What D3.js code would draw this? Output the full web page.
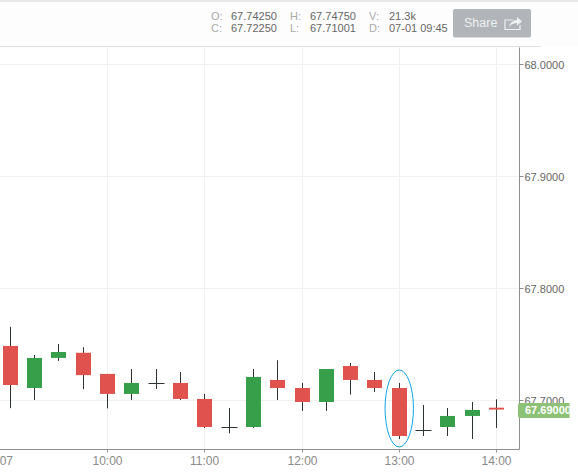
<!DOCTYPE html>
<html><head><meta charset="utf-8">
<script src="https://cdn.jsdelivr.net/npm/d3@7"></script>
<style>
html,body{margin:0;padding:0;background:#fff;overflow:hidden}
svg{display:block;font-family:"Liberation Sans",Arial,sans-serif}
</style></head><body>
<svg id="c" width="578" height="472"></svg>
<script>
const times=["09:00","09:15","09:30","09:45","10:00","10:15","10:30","10:45","11:00","11:15","11:30","11:45","12:00","12:15","12:30","12:45","13:00","13:15","13:30","13:45","14:00"];
const opens =[67.7486,67.7110,67.7379,67.7425,67.7236,67.7057,67.7152,67.7155,67.7012,67.6759,67.6761,67.7182,67.7110,67.6985,67.7307,67.7182,67.7110,67.6732,67.6761,67.6860,67.6934];
const closes=[67.7137,67.7379,67.7432,67.7225,67.7057,67.7155,67.7152,67.7012,67.6761,67.6759,67.7209,67.7110,67.6985,67.7280,67.7182,67.7110,67.6681,67.6732,67.6860,67.6914,67.6917];
const highs =[67.7656,67.7405,67.7504,67.7475,67.7236,67.7280,67.7280,67.7253,67.7057,67.6931,67.7280,67.7358,67.7155,67.7280,67.7334,67.7253,67.7155,67.6958,67.6931,67.6985,67.7009];
const lows  =[67.6930,67.7003,67.7352,67.7100,67.6928,67.7003,67.7101,67.7003,67.6753,67.6705,67.6753,67.7003,67.6905,67.6905,67.7051,67.7075,67.6654,67.6681,67.6681,67.6654,67.6753];
const priceTicks=[68.0,67.9,67.8,67.7];
const hourTicks=["10:00","11:00","12:00","13:00","14:00"];
const infoLabels=[["O:","67.74250","H:","67.74750","V:","21.3k"],["C:","67.72250","L:","67.71001","D:","07-01 09:45"]];
const lastPrice=67.69;
const highlighted="13:00";

const svg=d3.select("#c");
const mins=s=>{const [h,m]=s.split(":").map(Number);return h*60+m;};
const x=d3.scaleLinear().domain([mins("10:00"),mins("14:00")]).range([107,496]);
const y=d3.scaleLinear().domain([67.7,68.0]).range([400.3,64.8]);
const rightX=519.5,bottomY=449.5,topY=46.5;

// header background and frame
svg.append("rect").attr("x",0).attr("y",0).attr("width",578).attr("height",46).attr("fill","#fdfdfd");
svg.append("rect").attr("x",0).attr("y",0).attr("width",578).attr("height",2).attr("fill","#e8e8e8");
svg.append("line").attr("x1",0).attr("x2",541).attr("y1",topY).attr("y2",topY).attr("stroke","#e0e0e0");

// grid
const g=svg.append("g");
g.selectAll(".gy").data(priceTicks).join("line").attr("x1",0).attr("x2",rightX)
 .attr("y1",d=>Math.floor(y(d))+.5).attr("y2",d=>Math.floor(y(d))+.5).attr("stroke","#f0f0f0");
g.selectAll(".gx").data(hourTicks).join("line").attr("y1",topY+1).attr("y2",bottomY)
 .attr("x1",d=>Math.round(x(mins(d)))+.5).attr("x2",d=>Math.round(x(mins(d)))+.5).attr("stroke","#f0f0f0");

// candles
const idx=d3.range(times.length);
const bw=15;
const up="#379e4a",down="#e0524e",wick="#2c3533";
svg.append("g").selectAll("line").data(idx).join("line")
 .attr("x1",i=>Math.round(x(mins(times[i])))+.5).attr("x2",i=>Math.round(x(mins(times[i])))+.5)
 .attr("y1",i=>y(highs[i])).attr("y2",i=>y(lows[i])).attr("stroke",wick).attr("stroke-width",1);
svg.append("g").selectAll("path").data(idx).join("path")
 .attr("d",i=>{
   const cx=Math.round(x(mins(times[i])))+.5,
         a=y(Math.max(opens[i],closes[i])),b=y(Math.min(opens[i],closes[i]));
   const h=b-a;
   if(h<1) return `M${cx-8},${Math.round(a)+.5}H${cx+8}`;
   return `M${cx-bw/2},${a}H${cx+bw/2}V${b}H${cx-bw/2}Z`;
 })
 .attr("fill",i=>closes[i]>opens[i]?up:down)
 .attr("stroke",i=>closes[i]===opens[i]?wick:"none");

// ellipse annotation
const hi=times.indexOf(highlighted);
svg.append("ellipse").attr("cx",x(mins(highlighted))+.5).attr("cy",(y(highs[hi])+y(lows[hi]))/2-2.5)
 .attr("rx",14.2).attr("ry",38.5).attr("fill","none").attr("stroke","#12a5e8").attr("stroke-width",1);

// axes
const axisC="#8f8f8f";
svg.append("line").attr("x1",rightX).attr("x2",rightX).attr("y1",topY+1).attr("y2",bottomY).attr("stroke",axisC);
svg.append("line").attr("x1",0).attr("x2",rightX).attr("y1",bottomY).attr("y2",bottomY).attr("stroke",axisC);
const py=svg.append("g").selectAll("g").data(priceTicks).join("g").attr("transform",d=>`translate(${rightX},${Math.floor(y(d))+.5})`);
py.append("line").attr("x2",4).attr("stroke",axisC);
py.append("text").attr("x",5).attr("y",4).attr("font-size",11).attr("fill","#666").text(d=>d.toFixed(4));
const px=svg.append("g").selectAll("g").data(hourTicks).join("g").attr("transform",d=>`translate(${Math.round(x(mins(d)))+.5},${bottomY})`);
px.append("line").attr("y2",3).attr("stroke",axisC);
px.append("text").attr("y",15.5).attr("text-anchor","middle").attr("font-size",12).attr("fill","#8a8a8a").text(d=>d);
svg.append("text").attr("x",13).attr("y",bottomY+15.5).attr("text-anchor","end").attr("font-size",12).attr("fill","#8a8a8a").text("07");

// last price tag
const tagY=y(lastPrice)-1;
svg.append("path").attr("d",`M520,${tagY-7.5}H569.5V${tagY+7.5}H520Q518,${tagY+7.5} 518,${tagY+5.5}V${tagY-5.5}Q518,${tagY-7.5} 520,${tagY-7.5}Z`).attr("fill","#8cc176");
svg.append("clipPath").attr("id","tc").append("rect").attr("x",518).attr("y",395).attr("width",51.5).attr("height",30);
svg.append("text").attr("clip-path","url(#tc)").attr("x",525).attr("y",tagY+4).attr("font-size",11).attr("font-weight","bold").attr("fill","#fff").text(lastPrice.toFixed(5));

// info panel
const colX=[211,231,290,310,369,389];
infoLabels.forEach((row,r)=>row.forEach((t,c)=>{
  svg.append("text").attr("x",colX[c]).attr("y",20+r*12).attr("font-size",11)
   .attr("fill",c%2?"#666":"#aaa").text(t);
}));

// share button
svg.append("rect").attr("x",453).attr("y",9).attr("width",78).attr("height",28.5).attr("rx",2).attr("fill","#b1b5b9");
svg.append("text").attr("x",464).attr("y",27).attr("font-size",12.5).attr("fill","#eef0f2").text("Share");
svg.append("path").attr("d","M513,20H505V29.5H520V25").attr("fill","none").attr("stroke","#eef0f2").attr("stroke-width",1.2);
svg.append("path").attr("d","M509,27C510,22 514,20 517,20V17L522,21.5L517,25.5V23C514,23 511,24 509,27Z").attr("fill","#eef0f2");
</script></body></html>
